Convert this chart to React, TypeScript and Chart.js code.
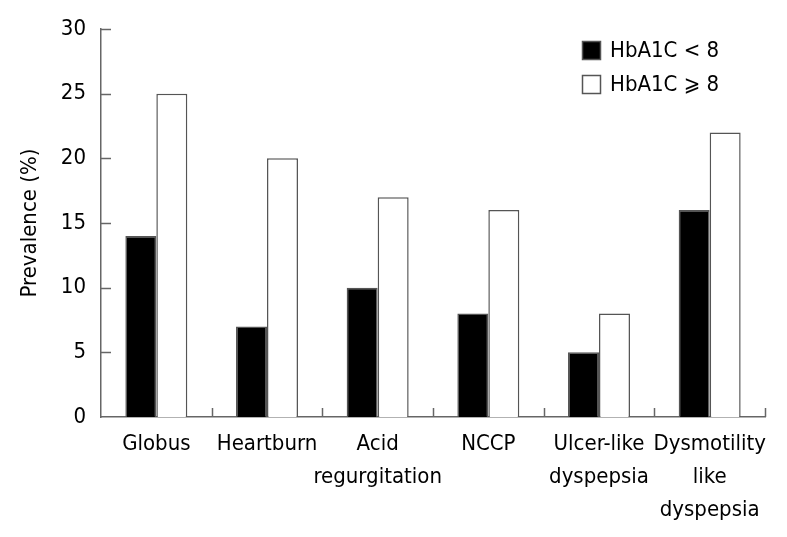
import { useEffect, useRef } from 'react';
import { Chart, registerables } from 'chart.js';
Chart.register(...registerables);

const categories: string[][] = [
  ['Globus'],
  ['Heartburn'],
  ['Acid', 'regurgitation'],
  ['NCCP'],
  ['Ulcer-like', 'dyspepsia'],
  ['Dysmotility', 'like', 'dyspepsia'],
];
const seriesLabels = ['HbA1C < 8', 'HbA1C \u2A7E 8'];
const lowValues = [14, 7, 10, 8, 5, 16];
const highValues = [25, 20, 17, 16, 8, 22];
const yMin = 0;
const yMax = 30;
const yStep = 5;
const yTitle = 'Prevalence (%)';

const FONT = "'DejaVu Sans Condensed', 'DejaVu Sans', Verdana, sans-serif";
const AXIS = '#666666';

const inwardTicks = {
  id: 'inwardTicks',
  afterDraw(chart: any) {
    const { ctx, chartArea } = chart;
    const xs = chart.scales.x;
    const ys = chart.scales.y;
    ctx.save();
    ctx.strokeStyle = AXIS;
    ctx.lineWidth = 1.5;
    const half = (xs.getPixelForValue(1) - xs.getPixelForValue(0)) / 2;
    for (let i = 0; i < categories.length; i++) {
      const bx = Math.round(xs.getPixelForValue(i) + half) + 0.5;
      ctx.beginPath();
      ctx.moveTo(bx, chartArea.bottom);
      ctx.lineTo(bx, chartArea.bottom - 9);
      ctx.stroke();
    }
    for (let v = yMin + yStep; v <= yMax; v += yStep) {
      const py = Math.round(ys.getPixelForValue(v)) + 0.5;
      ctx.beginPath();
      ctx.moveTo(chartArea.left, py);
      ctx.lineTo(chartArea.left + 10, py);
      ctx.stroke();
    }
    ctx.restore();
  },
};

const boxLegend = {
  id: 'boxLegend',
  afterDraw(chart: any) {
    const { ctx } = chart;
    ctx.save();
    ctx.font = `22px ${FONT}`;
    ctx.textBaseline = 'middle';
    ctx.textAlign = 'left';
    chart.data.datasets.forEach((ds: any, i: number) => {
      const x = 582;
      const y = 41 + i * 34;
      ctx.fillStyle = ds.backgroundColor;
      ctx.fillRect(x, y, 19, 19);
      ctx.strokeStyle = '#555';
      ctx.lineWidth = 1.5;
      ctx.strokeRect(x + 0.5, y + 0.5, 18, 18);
      ctx.fillStyle = '#000';
      ctx.fillText(ds.label, 610, y + 10);
    });
    ctx.restore();
  },
};

export default function App() {
  const ref = useRef<HTMLCanvasElement>(null);
  useEffect(() => {
    if (!ref.current) return;
    const chart = new Chart(ref.current, {
      type: 'bar',
      data: {
        labels: categories as any,
        datasets: [
          {
            label: seriesLabels[0],
            data: lowValues,
            backgroundColor: '#000000',
            borderColor: '#555555',
            borderWidth: 1.5,
            barPercentage: 1,
            categoryPercentage: 0.56,
          },
          {
            label: seriesLabels[1],
            data: highValues,
            backgroundColor: '#ffffff',
            borderColor: '#555555',
            borderWidth: 1.5,
            barPercentage: 1,
            categoryPercentage: 0.56,
          },
        ],
      },
      options: {
        responsive: false,
        animation: false,
        layout: { padding: { left: 0, top: 29, right: 22, bottom: 0 } },
        plugins: { legend: { display: false }, tooltip: { enabled: false } },
        scales: {
          x: {
            grid: { display: false },
            border: { display: true, color: AXIS, width: 1.5 },
            ticks: {
              color: '#000',
              font: { family: FONT, size: 22, lineHeight: 1.5 },
              padding: 3,
              maxRotation: 0,
              autoSkip: false,
            },
            afterFit(scale: any) {
              scale.height = 120;
            },
          },
          y: {
            min: yMin,
            max: yMax,
            grid: { display: false, drawTicks: false },
            border: { display: true, color: AXIS, width: 1.5 },
            ticks: {
              stepSize: yStep,
              color: '#000',
              font: { family: FONT, size: 22 },
              padding: 15,
            },
            title: {
              display: true,
              text: yTitle,
              color: '#000',
              font: { family: FONT, size: 22 },
              padding: { top: 17, bottom: 0 },
            },
            afterFit(scale: any) {
              scale.width = 101;
            },
          },
        },
      },
      plugins: [inwardTicks, boxLegend],
    });
    return () => chart.destroy();
  }, []);
  return (
    <canvas
      ref={ref}
      width={787}
      height={537}
      style={{ position: 'absolute', left: 0, top: 0, display: 'block', background: '#fff' }}
    />
  );
}
